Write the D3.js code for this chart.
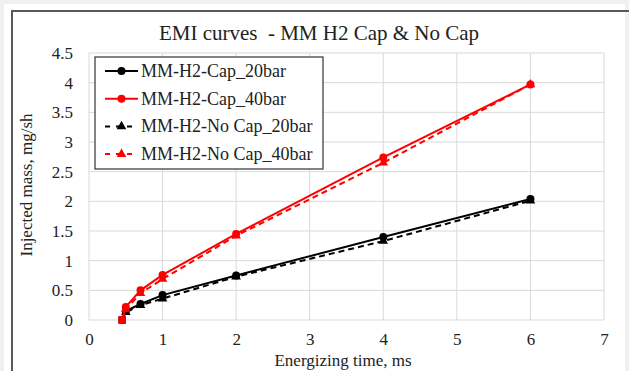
<!DOCTYPE html>
<html>
<head>
  <script src="https://d3js.org/d3.v7.min.js"></script>
  <style>
  html, body {
    margin: 0px;
    background: #f0f0f0;
  }
  svg text { font-family: "Liberation Serif", "DejaVu Serif", serif !important; fill: #222; }
  .grid line { stroke: #d9d9d9; stroke-width: 1; }
  .tick text { font-size: 17px; }
  </style>
</head>
<body>
  <svg width="629" height="371"></svg>
  <script>
  // data
  var times = [0.45, 0.5, 0.7, 1, 2, 4, 6];
  var capBar20   = [0, 0.15, 0.27, 0.42, 0.75, 1.40, 2.04];
  var capBar40   = [0, 0.22, 0.50, 0.76, 1.45, 2.74, 3.97];
  var noCapBar20 = [0, 0.13, 0.25, 0.36, 0.73, 1.33, 2.01];
  var noCapBar40 = [0, 0.18, 0.45, 0.69, 1.42, 2.65, 3.97];
  var xTicks = [0, 1, 2, 3, 4, 5, 6, 7];
  var yTicks = [0, 0.5, 1, 1.5, 2, 2.5, 3, 3.5, 4, 4.5];

  var series = [
    {name: "MM-H2-Cap_20bar",    values: capBar20,   color: "#000", dash: null,  marker: "circle"},
    {name: "MM-H2-Cap_40bar",    values: capBar40,   color: "#ff0000", dash: null,  marker: "circle"},
    {name: "MM-H2-No Cap_20bar", values: noCapBar20, color: "#000", dash: "6,4", marker: "triangle"},
    {name: "MM-H2-No Cap_40bar", values: noCapBar40, color: "#ff0000", dash: "6,4", marker: "triangle"}
  ];

  var svg = d3.select("svg");

  // page frame
  svg.append("rect").attr("x", 4).attr("y", 4).attr("width", 621).attr("height", 400).attr("fill", "#fff");
  svg.append("rect").attr("x", 12).attr("y", 11).attr("width", 700).attr("height", 500)
    .attr("fill", "none").attr("stroke", "#595959").attr("stroke-width", 2);

  var pLeft = 89, pRight = 604, pTop = 53, pBottom = 320;
  var x = d3.scaleLinear().domain([0, 7]).range([pLeft, pRight]);
  var y = d3.scaleLinear().domain([0, 4.5]).range([pBottom, pTop]);

  // grid
  var grid = svg.append("g").attr("class", "grid");
  grid.selectAll(".v").data(xTicks).enter().append("line")
    .attr("x1", function(d) { return x(d); }).attr("x2", function(d) { return x(d); })
    .attr("y1", pTop).attr("y2", pBottom);
  grid.selectAll(".h").data(yTicks).enter().append("line")
    .attr("y1", function(d) { return y(d); }).attr("y2", function(d) { return y(d); })
    .attr("x1", pLeft).attr("x2", pRight);

  // axes (labels only)
  var xAxis = svg.append("g").attr("transform", "translate(0," + pBottom + ")")
    .call(d3.axisBottom(x).tickValues(xTicks).tickSize(0).tickPadding(13).tickFormat(d3.format("d")));
  var yAxis = svg.append("g").attr("transform", "translate(" + pLeft + ",0)")
    .call(d3.axisLeft(y).tickValues(yTicks).tickSize(0).tickPadding(16).tickFormat(function(d) { return String(d); }));
  xAxis.select(".domain").remove();
  yAxis.select(".domain").remove();

  // lines and markers
  var line = d3.line()
    .x(function(d, i) { return x(times[i]); })
    .y(function(d) { return y(d); });

  var tri = d3.symbol().type(d3.symbolTriangle).size(40);

  function drawMarker(g, s, cx, cy) {
    if (s.marker === "circle") {
      g.append("circle").attr("cx", cx).attr("cy", cy).attr("r", 4).attr("fill", s.color);
    } else {
      g.append("path").attr("d", tri()).attr("transform", "translate(" + cx + "," + cy + ")").attr("fill", s.color);
    }
  }

  // draw back to front: no-cap dashed first
  [2, 0, 3, 1].forEach(function(k) {
    var s = series[k];
    var g = svg.append("g");
    g.append("path").datum(s.values)
      .attr("d", line).attr("fill", "none")
      .attr("stroke", s.color).attr("stroke-width", 2)
      .attr("stroke-dasharray", s.dash);
    s.values.forEach(function(v, i) {
      if (i === 0) {
        g.append("rect").attr("x", x(times[i]) - 3.5).attr("y", y(v) - 3.5)
          .attr("width", 7).attr("height", 7).attr("fill", s.color);
      } else {
        drawMarker(g, s, x(times[i]), y(v));
      }
    });
  });

  // title and axis titles
  svg.append("text").attr("x", 319).attr("y", 40).attr("text-anchor", "middle")
    .style("font-size", "21px").style("white-space", "pre")
    .text("EMI curves  - MM H2 Cap & No Cap");
  svg.append("text").attr("x", 343).attr("y", 366).attr("text-anchor", "middle")
    .style("font-size", "17px").text("Energizing time, ms");
  svg.append("text").attr("transform", "translate(32,185) rotate(-90)").attr("text-anchor", "middle")
    .style("font-size", "17px").text("Injected mass, mg/sh");

  // legend
  var lg = svg.append("g");
  lg.append("rect").attr("x", 95).attr("y", 57).attr("width", 228).attr("height", 112)
    .attr("fill", "#fff").attr("stroke", "#333").attr("stroke-width", 1.2);
  series.forEach(function(s, i) {
    var ly = 71 + i * 27.7;
    var g = lg.append("g");
    g.append("line").attr("x1", 105).attr("x2", 138).attr("y1", ly).attr("y2", ly)
      .attr("stroke", s.color).attr("stroke-width", 2).attr("stroke-dasharray", s.dash ? "5,6" : null);
    drawMarker(g, s, 121.5, ly);
    g.append("text").attr("x", 141).attr("y", ly + 6).style("font-size", "18px")
      .text(s.name);
  });
  </script>
</body>
</html>
